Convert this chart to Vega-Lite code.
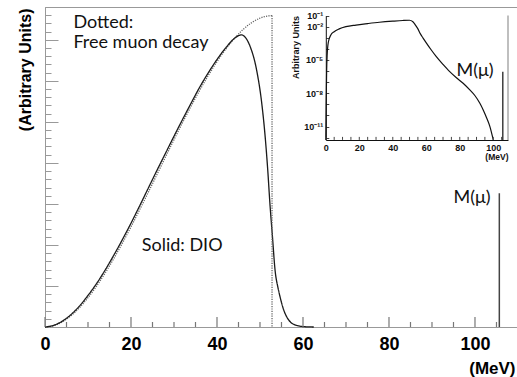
{
  "$schema": "https://vega.github.io/schema/vega-lite/v6.json",
  "width": 472,
  "height": 320,
  "autosize": {"type": "none"},
  "padding": {"left": 45, "top": 7, "right": 0, "bottom": 50},
  "background": "white",
  "config": {"view": {"stroke": "#999", "strokeWidth": 1}, "axis": {"grid": false}},
  "datasets": {
    "curves": [
      {"E": 0, "v": 0, "series": "Free"}, {"E": 2, "v": 0.032, "series": "Free"}, {"E": 4, "v": 0.124, "series": "Free"},
      {"E": 6, "v": 0.272, "series": "Free"}, {"E": 8, "v": 0.47, "series": "Free"}, {"E": 10, "v": 0.714, "series": "Free"},
      {"E": 12, "v": 0.998, "series": "Free"}, {"E": 14, "v": 1.318, "series": "Free"}, {"E": 16, "v": 1.669, "series": "Free"},
      {"E": 18, "v": 2.045, "series": "Free"}, {"E": 20, "v": 2.442, "series": "Free"}, {"E": 22, "v": 2.855, "series": "Free"},
      {"E": 24, "v": 3.279, "series": "Free"}, {"E": 26, "v": 3.709, "series": "Free"}, {"E": 28, "v": 4.14, "series": "Free"},
      {"E": 30, "v": 4.566, "series": "Free"}, {"E": 32, "v": 4.984, "series": "Free"}, {"E": 34, "v": 5.388, "series": "Free"},
      {"E": 36, "v": 5.774, "series": "Free"}, {"E": 38, "v": 6.135, "series": "Free"}, {"E": 40, "v": 6.468, "series": "Free"},
      {"E": 42, "v": 6.767, "series": "Free"}, {"E": 44, "v": 7.028, "series": "Free"}, {"E": 46, "v": 7.245, "series": "Free"},
      {"E": 48, "v": 7.413, "series": "Free"}, {"E": 50, "v": 7.528, "series": "Free"}, {"E": 51, "v": 7.564, "series": "Free"},
      {"E": 52, "v": 7.585, "series": "Free"}, {"E": 52.8, "v": 7.59, "series": "Free"},
      {"E": 0, "v": 0, "series": "DIO"}, {"E": 2, "v": 0.04, "series": "DIO"}, {"E": 4, "v": 0.14, "series": "DIO"},
      {"E": 6, "v": 0.3, "series": "DIO"}, {"E": 8, "v": 0.51, "series": "DIO"}, {"E": 10, "v": 0.77, "series": "DIO"},
      {"E": 12, "v": 1.06, "series": "DIO"}, {"E": 14, "v": 1.39, "series": "DIO"}, {"E": 16, "v": 1.75, "series": "DIO"},
      {"E": 18, "v": 2.13, "series": "DIO"}, {"E": 20, "v": 2.53, "series": "DIO"}, {"E": 22, "v": 2.95, "series": "DIO"},
      {"E": 24, "v": 3.38, "series": "DIO"}, {"E": 26, "v": 3.81, "series": "DIO"}, {"E": 28, "v": 4.23, "series": "DIO"},
      {"E": 30, "v": 4.65, "series": "DIO"}, {"E": 32, "v": 5.06, "series": "DIO"}, {"E": 34, "v": 5.46, "series": "DIO"},
      {"E": 36, "v": 5.85, "series": "DIO"}, {"E": 38, "v": 6.2, "series": "DIO"}, {"E": 40, "v": 6.52, "series": "DIO"},
      {"E": 42, "v": 6.8, "series": "DIO"}, {"E": 44, "v": 7.03, "series": "DIO"}, {"E": 45, "v": 7.1, "series": "DIO"},
      {"E": 45.7, "v": 7.12, "series": "DIO"}, {"E": 46.5, "v": 7.07, "series": "DIO"}, {"E": 47.7, "v": 6.84, "series": "DIO"},
      {"E": 49.2, "v": 6.27, "series": "DIO"}, {"E": 50.4, "v": 5.46, "series": "DIO"}, {"E": 51.2, "v": 4.64, "series": "DIO"},
      {"E": 51.8, "v": 3.83, "series": "DIO"}, {"E": 52.3, "v": 3.02, "series": "DIO"}, {"E": 52.9, "v": 2.2, "series": "DIO"},
      {"E": 53.5, "v": 1.39, "series": "DIO"}, {"E": 54.2, "v": 0.95, "series": "DIO"}, {"E": 54.7, "v": 0.72, "series": "DIO"},
      {"E": 55.5, "v": 0.42, "series": "DIO"}, {"E": 56.2, "v": 0.25, "series": "DIO"}, {"E": 57.2, "v": 0.11, "series": "DIO"},
      {"E": 58.5, "v": 0.04, "series": "DIO"}, {"E": 60, "v": 0.01, "series": "DIO"}, {"E": 62.5, "v": 0, "series": "DIO"}
    ],
    "endpoint": [{"E": 52.8, "top": 7.59}],
    "mline": [{"E": 105.66, "top": 3.26}],
    "minorTicks": [
      {"E": 5}, {"E": 10}, {"E": 15}, {"E": 25}, {"E": 30}, {"E": 35}, {"E": 45}, {"E": 50}, {"E": 55},
      {"E": 65}, {"E": 70}, {"E": 75}, {"E": 85}, {"E": 90}, {"E": 95}, {"E": 105}
    ],
    "majorTicks": [{"E": 0}, {"E": 20}, {"E": 40}, {"E": 60}, {"E": 80}, {"E": 100}],
    "labels": [
      {"E": 6.6, "v": 7.285, "t": "Dotted:"},
      {"E": 6.6, "v": 6.8, "t": "Free muon decay"},
      {"E": 22.5, "v": 1.86, "t": "Solid: DIO"},
      {"E": 95.0, "v": 3.02, "t": "M(μ)"}
    ],
    "inset": [
      {"E": 0, "p": 6.31e-13}, {"E": 0.2, "p": 1e-9}, {"E": 0.5, "p": 1e-6}, {"E": 0.8, "p": 2.51e-5},
      {"E": 1.5, "p": 3.98e-4}, {"E": 3, "p": 1.78e-3}, {"E": 5, "p": 3.55e-3}, {"E": 8, "p": 6.31e-3},
      {"E": 12, "p": 0.01}, {"E": 18, "p": 0.0141}, {"E": 25, "p": 0.0191}, {"E": 32, "p": 0.0251},
      {"E": 40, "p": 0.0316}, {"E": 46, "p": 0.0363}, {"E": 50, "p": 0.038}, {"E": 52, "p": 0.0282},
      {"E": 53.5, "p": 0.0141}, {"E": 55, "p": 0.00631}, {"E": 56.5, "p": 0.00224}, {"E": 58, "p": 0.001},
      {"E": 60, "p": 3.55e-4}, {"E": 63, "p": 7.94e-5}, {"E": 66, "p": 2.0e-5}, {"E": 70, "p": 3.98e-6},
      {"E": 74, "p": 8.91e-7}, {"E": 78, "p": 2.51e-7}, {"E": 82, "p": 7.94e-8}, {"E": 86, "p": 2.0e-8},
      {"E": 89, "p": 6.31e-9}, {"E": 92, "p": 1.26e-9}, {"E": 94, "p": 3.16e-10}, {"E": 96, "p": 6.31e-11},
      {"E": 98, "p": 1e-11}, {"E": 100, "p": 6.31e-13}
    ],
    "insetTicks": [
      {"E": 0}, {"E": 5}, {"E": 10}, {"E": 15}, {"E": 20}, {"E": 25}, {"E": 30}, {"E": 35}, {"E": 40}, {"E": 45}, {"E": 50},
      {"E": 55}, {"E": 60}, {"E": 65}, {"E": 70}, {"E": 75}, {"E": 80}, {"E": 85}, {"E": 90}, {"E": 95}, {"E": 100}, {"E": 105}
    ],
    "insetM": [{"E": 105.7, "top": 8.9e-7}],
    "insetFrame": [{"E": 108.8}],
    "insetLabel": [{"E": 78.1, "p": 3.6e-7, "t": "M(μ)"}]
  },
  "layer": [
    {
      "layer": [
        {
          "data": {"name": "curves"},
          "mark": {"type": "line", "strokeWidth": 1.3, "interpolate": "monotone"},
          "encoding": {
            "x": {
              "field": "E", "type": "quantitative",
              "scale": {"domain": [0, 109.77], "nice": false, "zero": false},
              "axis": {
                "orient": "bottom",
                "values": [0, 20, 40, 60, 80, 100],
                "ticks": false, "domainColor": "#999",
                "labelFont": "Liberation Sans", "labelFontSize": 18, "labelFontWeight": "bold", "labelColor": "#000",
                "labelPadding": 8, "labelFlush": false, "labelOverlap": false,
                "title": "(MeV)", "titleFont": "Liberation Sans", "titleFontSize": 17,
                "titleFontWeight": "bold", "titleColor": "#000",
                "titleX": 470, "titleY": 46, "titleAlign": "right", "titleBaseline": "alphabetic", "titleAngle": 0
              }
            },
            "y": {
              "field": "v", "type": "quantitative",
              "scale": {"domain": [0, 7.8], "nice": false},
              "axis": {
                "orient": "left",
                "values": [0, 0.2, 0.4, 0.6, 0.8, 1, 1.2, 1.4, 1.6, 1.8, 2, 2.2, 2.4, 2.6, 2.8, 3, 3.2, 3.4, 3.6, 3.8, 4, 4.2, 4.4, 4.6, 4.8, 5, 5.2, 5.4, 5.6, 5.8, 6, 6.2, 6.4, 6.6, 6.8, 7, 7.2, 7.4, 7.6, 7.8],
                "labels": false, "tickSize": -6, "domainColor": "#999", "tickColor": "#999", "title": null
              }
            },
            "color": {"field": "series", "type": "nominal", "scale": {"domain": ["Free", "DIO"], "range": ["#666", "#1a1a1a"]}, "legend": null},
            "strokeDash": {"field": "series", "type": "nominal", "scale": {"domain": ["Free", "DIO"], "range": [[1.2, 1.2], [1, 0]]}, "legend": null}
          }
        },
        {
          "data": {"name": "endpoint"},
          "mark": {"type": "rule", "color": "#666", "strokeDash": [1.2, 1.2], "strokeWidth": 1.3},
          "encoding": {
            "x": {"field": "E", "type": "quantitative", "axis": null},
            "y": {
              "field": "top", "type": "quantitative",
              "axis": {
                "orient": "left",
                "values": [0, 1, 2, 3, 4, 5, 6, 7],
                "labels": false, "tickSize": -13, "domain": false, "tickColor": "#999",
                "title": "(Arbitrary Units)", "titleFont": "Liberation Sans", "titleFontSize": 16,
                "titleFontWeight": "bold", "titleColor": "#000",
                "titleX": -20, "titleY": 1, "titleAngle": -90, "titleAlign": "right", "titleBaseline": "middle"
              }
            },
            "y2": {"datum": 0}
          }
        },
        {
          "data": {"name": "minorTicks"},
          "mark": {"type": "rule", "color": "#777", "strokeWidth": 1.2, "yOffset": -5},
          "encoding": {
            "x": {"field": "E", "type": "quantitative", "axis": null},
            "y": {"datum": 0, "type": "quantitative", "axis": null},
            "y2": {"datum": 0}
          }
        },
        {
          "data": {"name": "majorTicks"},
          "mark": {"type": "rule", "color": "#777", "strokeWidth": 1.2, "yOffset": -10},
          "encoding": {
            "x": {"field": "E", "type": "quantitative", "axis": null},
            "y": {"datum": 0, "type": "quantitative", "axis": null},
            "y2": {"datum": 0}
          }
        },
        {
          "data": {"name": "mline"},
          "mark": {"type": "rule", "color": "#444", "strokeWidth": 1.5},
          "encoding": {
            "x": {"field": "E", "type": "quantitative", "axis": null},
            "y": {"field": "top", "type": "quantitative", "axis": null},
            "y2": {"datum": 0}
          }
        },
        {
          "data": {"name": "labels"},
          "mark": {"type": "text", "align": "left", "baseline": "alphabetic", "font": "Lato", "fontSize": 18, "color": "#111"},
          "encoding": {
            "x": {"field": "E", "type": "quantitative", "axis": null},
            "y": {"field": "v", "type": "quantitative", "axis": null},
            "text": {"field": "t"}
          }
        }
      ],
      "resolve": {"axis": {"x": "independent", "y": "independent"}}
    },
    {
      "layer": [
        {
          "data": {"name": "inset"},
          "mark": {"type": "line", "strokeWidth": 1.2, "color": "#111", "interpolate": "monotone"},
          "encoding": {
            "x": {
              "field": "E", "type": "quantitative",
              "scale": {"domain": [0, 108.8], "range": [280.8, 463], "nice": false, "zero": false},
              "axis": {
                "orient": "bottom", "offset": -187,
                "values": [0, 20, 40, 60, 80, 100],
                "ticks": false,
                "domainColor": "#111",
                "labelFont": "Liberation Sans", "labelFontSize": 9, "labelFontWeight": "bold", "labelColor": "#111",
                "labelPadding": 3, "labelFlush": false, "labelOverlap": false,
                "title": "(MeV)", "titleAnchor": "end", "titleFont": "Liberation Sans", "titleFontSize": 8.5,
                "titleFontWeight": "bold", "titleColor": "#111", "titlePadding": 0
              }
            },
            "y": {
              "field": "p", "type": "quantitative",
              "scale": {"type": "log", "domain": [6.31e-13, 0.1], "range": [132.9, 8.6], "nice": false},
              "axis": {
                "orient": "left", "offset": -280.8,
                "values": [1e-12, 1e-11, 1e-10, 1e-9, 1e-8, 1e-7, 1e-6, 1e-5, 1e-4, 1e-3, 1e-2, 1e-1],
                "labelExpr": "datum.value > 0.05 ? '10⁻¹' : (datum.value > 0.005 && datum.value < 0.05) ? '10⁻²' : (datum.value > 5e-6 && datum.value < 5e-5) ? '10⁻⁵' : (datum.value > 5e-9 && datum.value < 5e-8) ? '10⁻⁸' : (datum.value > 5e-12 && datum.value < 5e-11) ? '10⁻¹¹' : ''",
                "tickSize": -3,
                "domainColor": "#111", "tickColor": "#444",
                "labelFont": "Liberation Sans", "labelFontSize": 9, "labelFontWeight": "bold", "labelColor": "#111",
                "labelPadding": 6, "labelOverlap": false, "labelFlush": false,
                "title": "Arbitrary Units", "titleAnchor": "end", "titleFont": "Liberation Sans", "titleFontSize": 9,
                "titleFontWeight": "bold", "titleColor": "#111", "titlePadding": 3
              }
            }
          }
        },
        {
          "data": {"name": "insetTicks"},
          "mark": {"type": "rule", "color": "#444", "strokeWidth": 1, "yOffset": -3},
          "encoding": {
            "x": {"field": "E", "type": "quantitative", "axis": null},
            "y": {"datum": 6.31e-13, "type": "quantitative", "axis": null},
            "y2": {"datum": 6.31e-13}
          }
        },
        {
          "data": {"name": "insetM"},
          "mark": {"type": "rule", "color": "#222", "strokeWidth": 1.3},
          "encoding": {
            "x": {"field": "E", "type": "quantitative", "axis": null},
            "y": {"field": "top", "type": "quantitative", "axis": null},
            "y2": {"datum": 6.31e-13}
          }
        },
        {
          "data": {"name": "insetFrame"},
          "mark": {"type": "rule", "color": "#aaa", "strokeWidth": 1.5},
          "encoding": {
            "x": {"field": "E", "type": "quantitative", "axis": null},
            "y": {"datum": 0.1, "axis": null},
            "y2": {"datum": 6.31e-13}
          }
        },
        {
          "data": {"name": "insetLabel"},
          "mark": {"type": "text", "align": "left", "baseline": "alphabetic", "font": "Lato", "fontSize": 18, "color": "#111"},
          "encoding": {
            "x": {"field": "E", "type": "quantitative", "axis": null},
            "y": {"field": "p", "type": "quantitative", "axis": null},
            "text": {"field": "t"}
          }
        }
      ],
      "resolve": {"axis": {"x": "independent", "y": "independent"}}
    }
  ],
  "resolve": {"scale": {"x": "independent", "y": "independent"}}
}
